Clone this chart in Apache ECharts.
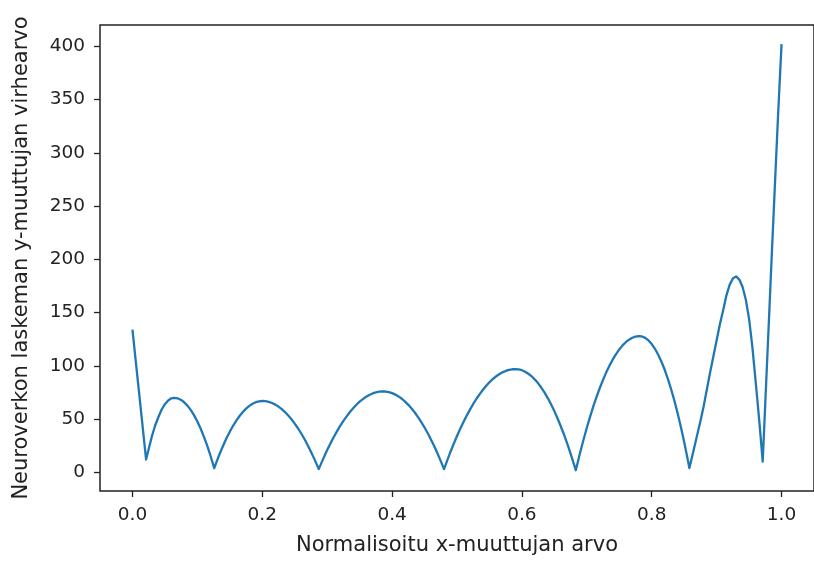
<!DOCTYPE html>
<html>
<head>
<meta charset="utf-8">
<script src="https://cdn.jsdelivr.net/npm/echarts@6/dist/echarts.min.js"></script>
<style>
  html, body { margin: 0; padding: 0; background: #fff; }
  #errorChart { width: 814px; height: 561px; }
</style>
</head>
<body>
<div id="errorChart"></div>
<script>
  // normalisoitu x ja virhearvo, luettu kuvasta (rivi kerrallaan samat kohdat)
  var xVals = [
    0.000, 0.005, 0.010, 0.015, 0.021, 0.025, 0.030, 0.035, 0.040, 0.045,
    0.050, 0.055, 0.060, 0.064, 0.070, 0.075, 0.080, 0.085, 0.090, 0.095,
    0.100, 0.105, 0.110, 0.115, 0.120, 0.126, 0.130, 0.135, 0.140, 0.145,
    0.150, 0.155, 0.160, 0.165, 0.170, 0.175, 0.180, 0.185, 0.190, 0.195,
    0.200, 0.205, 0.210, 0.215, 0.220, 0.225, 0.230, 0.235, 0.240, 0.245,
    0.250, 0.255, 0.260, 0.265, 0.270, 0.275, 0.280, 0.287, 0.290, 0.295,
    0.300, 0.305, 0.310, 0.315, 0.320, 0.325, 0.330, 0.335, 0.340, 0.345,
    0.350, 0.355, 0.360, 0.365, 0.370, 0.375, 0.380, 0.385, 0.390, 0.395,
    0.400, 0.405, 0.410, 0.415, 0.420, 0.425, 0.430, 0.435, 0.440, 0.445,
    0.450, 0.455, 0.460, 0.465, 0.470, 0.475, 0.480, 0.485, 0.490, 0.495,
    0.500, 0.505, 0.510, 0.515, 0.520, 0.525, 0.530, 0.535, 0.540, 0.545,
    0.550, 0.555, 0.560, 0.565, 0.570, 0.575, 0.580, 0.585, 0.590, 0.595,
    0.600, 0.605, 0.610, 0.615, 0.620, 0.625, 0.630, 0.635, 0.640, 0.645,
    0.650, 0.655, 0.660, 0.665, 0.670, 0.675, 0.680, 0.683, 0.685, 0.690,
    0.695, 0.700, 0.705, 0.710, 0.715, 0.720, 0.725, 0.730, 0.735, 0.740,
    0.745, 0.750, 0.755, 0.760, 0.765, 0.770, 0.775, 0.780, 0.785, 0.790,
    0.795, 0.800, 0.805, 0.810, 0.815, 0.820, 0.825, 0.830, 0.835, 0.840,
    0.845, 0.850, 0.855, 0.858, 0.860, 0.865, 0.870, 0.875, 0.880, 0.885,
    0.890, 0.895, 0.900, 0.905, 0.910, 0.915, 0.920, 0.925, 0.930, 0.935,
    0.940, 0.945, 0.950, 0.955, 0.960, 0.965, 0.968, 0.971, 0.975, 0.980,
    0.985, 0.990, 0.995, 1.000
  ];
  var errVals = [
    134, 105, 76, 47, 12, 22, 34, 44, 52, 59,
    64, 67.5, 69.5, 70, 69.4, 68, 65.6, 62.4, 58.4, 53.5,
    47.7, 41.2, 33.6, 25.3, 16.1, 4, 10.6, 18.4, 25.5, 32.2,
    38.2, 43.7, 48.6, 52.9, 56.7, 59.8, 62.4, 64.4, 65.9, 66.7,
    67, 66.8, 66.2, 65.1, 63.6, 61.8, 59.4, 56.6, 53.4, 49.9,
    45.8, 41.4, 36.5, 31.3, 25.5, 19.4, 12.9, 3, 7.3, 14.3,
    20.9, 27.2, 32.9, 38.5, 43.6, 48.3, 52.6, 56.7, 60.2, 63.5,
    66.4, 68.8, 71, 72.7, 74.1, 75.1, 75.7, 76, 75.9, 75.3,
    74.4, 73, 71.3, 69.1, 66.4, 63.4, 60, 56.2, 51.9, 47.2,
    42.1, 36.7, 30.7, 24.5, 17.7, 10.5, 3, 11.3, 19.4, 26.9,
    34.1, 40.9, 47.3, 53.3, 58.9, 64.2, 69.1, 73.5, 77.5, 81.3,
    84.6, 87.5, 90, 92.1, 93.9, 95.2, 96.2, 96.8, 97, 96.7,
    95.9, 94.5, 92.6, 90.2, 87.1, 83.6, 79.4, 74.8, 69.5, 63.8,
    57.5, 50.5, 43.1, 35.3, 26.7, 17.7, 8, 2, 7, 19.3,
    30.9, 41.9, 52.1, 62, 70.9, 79.2, 86.9, 93.9, 100.3, 106,
    111, 115.4, 119.2, 122.2, 124.6, 126.4, 127.5, 128, 127.6, 126.3,
    123.9, 120.4, 116, 110.4, 103.8, 96.3, 87.6, 77.8, 67.1, 55.2,
    42.3, 28.4, 13.4, 4, 9, 22, 35, 48, 62, 78,
    94, 109, 124, 139, 152, 166, 176, 182, 184, 181,
    174, 162, 144, 118, 86, 53, 32, 10, 66, 135,
    205, 273, 340, 402
  ];
  var xTicks = [0, 0.2, 0.4, 0.6, 0.8, 1.0];
  var yTicks = [0, 50, 100, 150, 200, 250, 300, 350, 400];

  var points = xVals.map(function (x, i) { return [x, errVals[i]]; });

  var chart = echarts.init(document.getElementById('errorChart'));
  chart.setOption({
    animation: false,
    textStyle: { fontFamily: 'DejaVu Sans' },
    grid: {
      left: 100,
      top: 25,
      width: 718,   // oikea reuna jää kuvan ulkopuolelle kuten alkuperäisessä
      height: 467,
      show: true,
      borderColor: '#222',
      borderWidth: 1.5,
      backgroundColor: 'transparent'
    },
    xAxis: {
      type: 'value',
      min: -0.05,
      max: 1.05,
      name: 'Normalisoitu x-muuttujan arvo',
      nameLocation: 'middle',
      nameGap: 44,
      nameTextStyle: { fontSize: 21, color: '#222' },
      splitLine: { show: false },
      axisLine: { show: false, onZero: false },
      axisTick: {
        show: true,
        length: 6,
        customValues: xTicks,
        lineStyle: { color: '#222', width: 1.3 }
      },
      axisLabel: {
        fontSize: 18.5,
        color: '#222',
        margin: 15,
        customValues: xTicks,
        formatter: function (v) { return v.toFixed(1); }
      }
    },
    yAxis: {
      type: 'value',
      min: -17.5,
      max: 420,
      name: 'Neuroverkon laskeman y-muuttujan virhearvo',
      nameLocation: 'middle',
      nameGap: 68,
      nameTextStyle: { fontSize: 21, color: '#222' },
      splitLine: { show: false },
      axisLine: { show: false, onZero: false },
      axisTick: {
        show: true,
        length: 6,
        customValues: yTicks,
        lineStyle: { color: '#222', width: 1.3 }
      },
      axisLabel: {
        fontSize: 18.5,
        color: '#222',
        margin: 15,
        customValues: yTicks
      }
    },
    series: [
      {
        type: 'line',
        data: points,
        showSymbol: false,
        symbol: 'none',
        lineStyle: { color: '#1f77b4', width: 2.3, join: 'round' },
        z: 3
      }
    ]
  });
</script>
</body>
</html>
